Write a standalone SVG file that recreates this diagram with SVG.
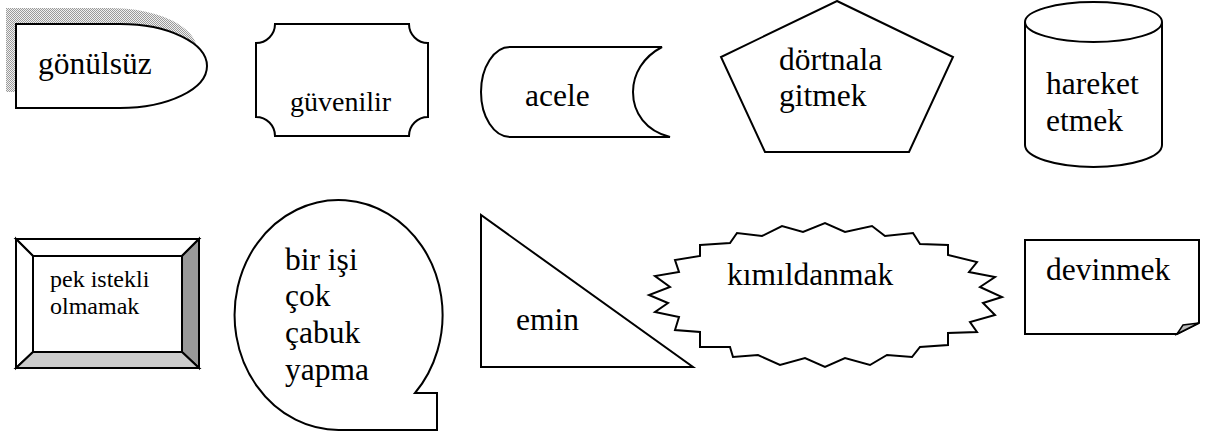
<svg xmlns="http://www.w3.org/2000/svg" width="1205" height="435" viewBox="0 0 1205 435">
<style>
.s{fill:#fff;stroke:#000;stroke-width:2;stroke-linejoin:miter}
text{font-family:'Liberation Serif','Times New Roman',serif;font-size:31.5px;fill:#000}
</style>
<defs>
<pattern id="dots" width="2" height="2" patternUnits="userSpaceOnUse">
<rect width="2" height="2" fill="#f0f0f0"/>
<rect width="1" height="1" fill="#9a9a9a"/>
<rect x="1" y="1" width="1" height="1" fill="#9a9a9a"/>
</pattern>
</defs>
<rect width="1205" height="435" fill="#fff"/>
<g id="connectors"></g>
<g id="n-gonulsuz">
<path d="M16,24 H120 A87,42 0 0 1 120,108 H16 Z" transform="translate(-10,-16)" fill="url(#dots)"/>
<path class="s" d="M16,24 H120 A87,42 0 0 1 120,108 H16 Z"/>
<text x="38" y="74">gönülsüz</text>
</g>
<g id="n-guvenilir">
<path class="s" d="M275,24 H409 A19,19 0 0 0 428,43 V117 A19,19 0 0 0 409,136 H275 A19,19 0 0 0 256,117 V43 A19,19 0 0 0 275,24 Z"/>
<text x="290" y="111" style="font-size:28px">güvenilir</text>
</g>
<g id="n-acele">
<path class="s" d="M510,47 H662 C643,57 633,74 633,92 C633,113 646,131 670,137 H510 A29,45 0 0 1 510,47 Z"/>
<text x="525" y="106">acele</text>
</g>
<g id="n-dortnala">
<polygon class="s" points="837,1 953,57 909,152 765,152 721,57"/>
<text x="779" y="70">dörtnala</text>
<text x="779" y="106">gitmek</text>
</g>
<g id="n-hareket">
<path class="s" d="M1025,22 V145 A68.5,22 0 0 0 1162,145 V22"/>
<ellipse class="s" cx="1093.5" cy="22" rx="68.5" ry="20"/>
<text x="1046" y="94">hareket</text>
<text x="1046" y="131">etmek</text>
</g>
<g id="n-pek">
<polygon class="s" points="16,239 199,239 182,256 33,256"/>
<polygon class="s" points="16,239 33,256 33,352 16,368"/>
<polygon class="s" points="199,239 199,368 182,352 182,256" style="fill:#999"/>
<polygon class="s" points="16,368 199,368 182,352 33,352" style="fill:#ccc"/>
<rect class="s" x="33" y="256" width="149" height="96"/>
<text x="50" y="287" style="font-size:24px">pek istekli</text>
<text x="50" y="314" style="font-size:24px">olmamak</text>
</g>
<g id="n-bir">
<path class="s" d="M415,393 A104,115 0 1 0 339,430 H437 V393 Z"/>
<text x="285" y="270">bir işi</text>
<text x="285" y="306">çok</text>
<text x="285" y="343">çabuk</text>
<text x="285" y="380">yapma</text>
</g>
<g id="n-emin">
<path class="s" d="M481,215 V367 H693 Z"/>
<text x="516" y="330">emin</text>
</g>
<g id="n-kimildanmak">
<polygon class="s" points="700,245 730,243 737,233 762,236 782,226 803,232 825,223 845,232 872,226 885,236 913,233 920,244 948,245 948,255 977,262 969,272 995,277 980,287 1002,297 983,303 995,315 970,322 977,332 948,333 948,345 920,347 912,357 887,355 870,365 845,358 825,367 805,358 780,365 758,355 733,357 730,347 700,347 700,332 675,330 679,317 655,312 668,303 649,295 670,287 655,276 679,272 675,260 700,256"/>
<text x="727" y="285">kımıldanmak</text>
</g>
<g id="n-devinmek">
<path class="s" d="M1025,240 H1199 V323 L1177,334 H1025 Z"/>
<polygon class="s" points="1177,334 1183,325 1199,323" style="fill:#bbb;stroke-width:1.5"/>
<text x="1046" y="280">devinmek</text>
</g>
</svg>
